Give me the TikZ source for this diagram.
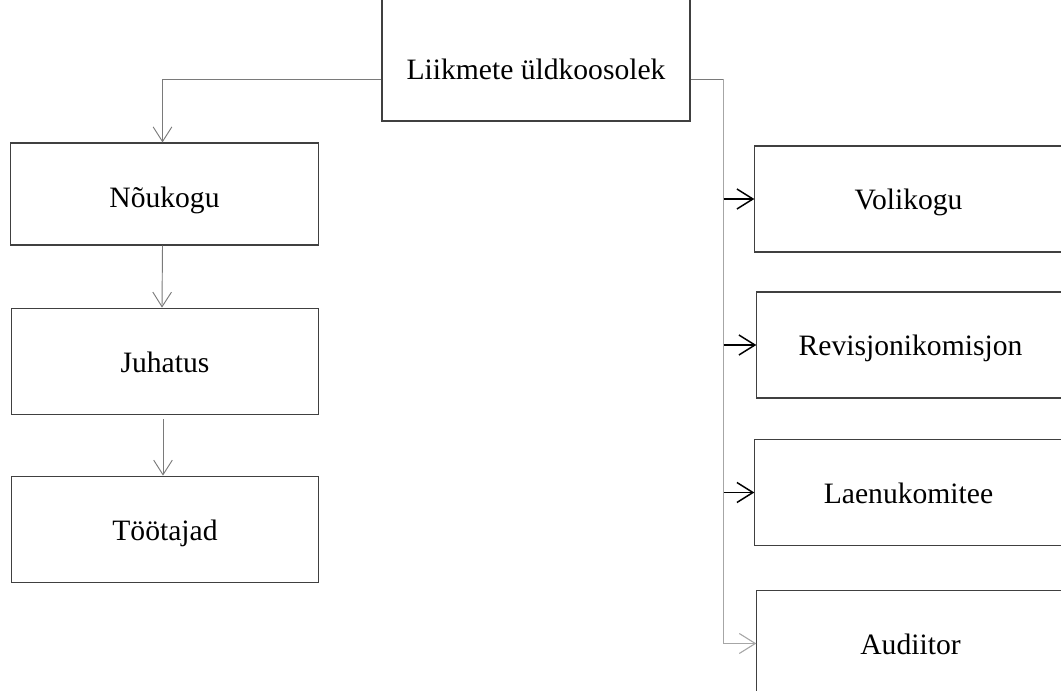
\documentclass[tikz,border=0pt]{standalone}
\usepackage{fontspec}
\setmainfont{Liberation Serif}
\usepackage{xcolor}
\usetikzlibrary{calc,arrows.meta}
\definecolor{color_box_line}{HTML}{404040}
\definecolor{color_link}{HTML}{7a7a7a}
\definecolor{color_trunk}{HTML}{a6a6a6}

\begin{document}
\begin{tikzpicture}[x=0.75pt,y=-0.75pt,
	every node/.style={font=\fontsize{22.2}{26}\selectfont,text height=16.5pt,text depth=0pt},
	orgbox/.style={draw=color_box_line,line width=0.8pt,inner sep=0pt,minimum width=230.5pt,minimum height=80pt},
	link/.style={color_link,line width=0.7pt,-{Straight Barb[length=11pt,width=14pt]}},
	boldlink/.style={black,line width=1.1pt,-{Straight Barb[length=12pt,width=15pt]}}]
	\useasboundingbox (0, 0) rectangle (1061, 691);
	\clip (0, 0) rectangle (1061, 691);
	% Boxes
	\node[orgbox,minimum width=231pt,minimum height=106.5pt,text height=45pt] (yld) at (536, 50) {Liikmete üldkoosolek};
	\coordinate (split) at (536, 79);
	
	\node[orgbox,minimum height=76.5pt,text height=21pt] (noukogu) at (164.5, 194) {Nõukogu};
	\node[orgbox] (juhatus) at (165, 361.5) {Juhatus};
	\node[orgbox] (tootajad) at (165, 529.5) {Töötajad};
	
	\node[orgbox,minimum height=79.5pt] (volikogu) at (908.5, 199) {Volikogu};
	\node[orgbox,minimum height=79.5pt] (revisjon) at (910.5, 345) {Revisjonikomisjon};
	\node[orgbox] (laenu) at (908.5, 492.5) {Laenukomitee};
	\node[orgbox] (audiitor) at (910.5, 643.5) {Audiitor};
	
	% Left branch
	\draw[link] (yld.west |- split) -| ($(noukogu.north)+(-2,0)$);
	\draw[link] ($(noukogu.south)+(-2,0)$) -- ($(juhatus.north)+(-3,0)$);
	\draw[link] ($(juhatus.south)+(-2,4)$) -- ($(tootajad.north)+(-2,0)$);
	
	% Right branch
	\coordinate (trunk) at ($(yld.east |- split)+(33, 0)$);
	\draw[color_link,line width=0.7pt] (yld.east |- split) -- (trunk);
	\draw[color_trunk,line width=0.8pt,-{Straight Barb[length=12pt,width=15pt]}]
		(trunk) |- (audiitor.west);
	\draw[boldlink] (trunk |- volikogu.west) -- (volikogu.west);
	\draw[boldlink] (trunk |- revisjon.west) -- (revisjon.west);
	\draw[boldlink] (trunk |- laenu.west) -- (laenu.west);
\end{tikzpicture}
\end{document}
